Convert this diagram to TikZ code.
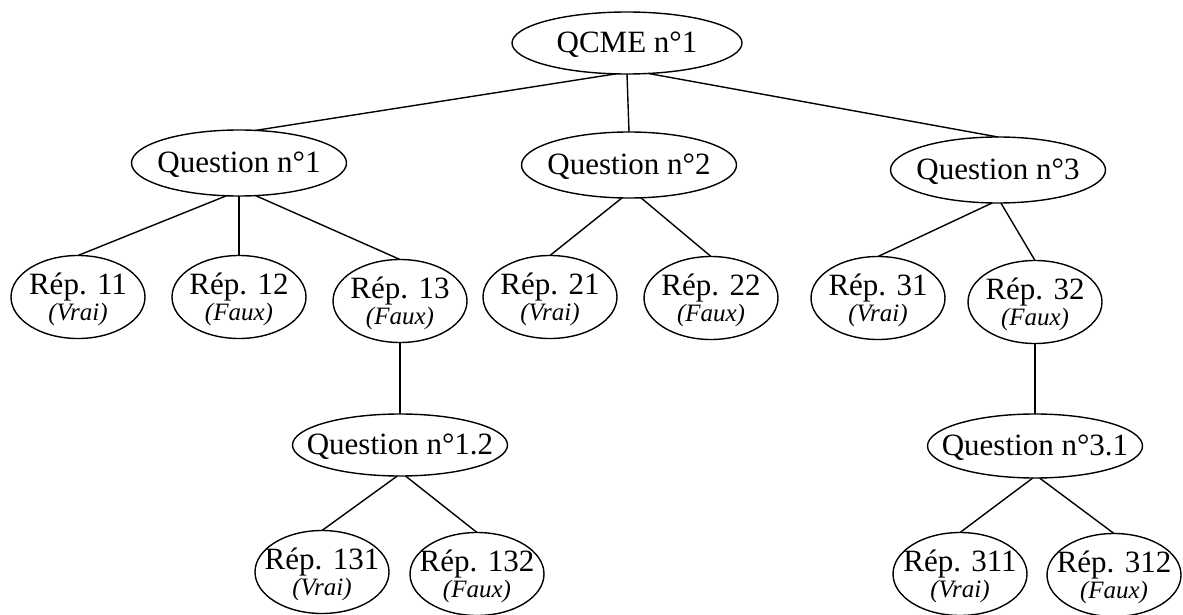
\documentclass[tikz,border=0pt]{standalone}
\usepackage{fontspec}
\setmainfont{Liberation Serif}
\usetikzlibrary{shapes.geometric}
\setlength{\lineskiplimit}{-20pt}
\newcommand\subtxt[1]{{\fontsize{25}{26}\selectfont\itshape #1}}
\begin{document}
\begin{tikzpicture}[x=1pt,y=-1pt,
  ell/.style={draw, ellipse, inner sep=0pt, outer sep=0pt, line width=1.4pt},
  qtext/.style={font=\fontsize{31}{34}\selectfont, inner sep=0pt, yshift=-2pt},
  rtext/.style={font=\fontsize{31}{26}\selectfont, inner sep=0pt, align=center, yshift=-2pt},
  qn/.style={ell, minimum width=215, minimum height=66},
  rep/.style={ell, minimum width=134, minimum height=83},
  conn/.style={line width=1.4pt}]
\useasboundingbox (0,0) rectangle (1183,615);
\node[ell, minimum width=230, minimum height=62, label={[qtext]center:QCME n°1}] (q0) at (627,43) {};
\node[qn, label={[qtext]center:Question n°1}] (q1) at (239,163) {};
\node[qn, label={[qtext]center:Question n°2}] (q2) at (629,165) {};
\node[qn, label={[qtext]center:Question n°3}] (q3) at (998,170) {};
\node[rep, label={[rtext]center:Rép. 11\\\subtxt{(Vrai)}}] (r11) at (78,297) {};
\node[rep, label={[rtext]center:Rép. 12\\\subtxt{(Faux)}}] (r12) at (239,297) {};
\node[rep, label={[rtext]center:Rép. 13\\\subtxt{(Faux)}}] (r13) at (400,301) {};
\node[rep, label={[rtext]center:Rép. 21\\\subtxt{(Vrai)}}] (r21) at (550,297) {};
\node[rep, label={[rtext]center:Rép. 22\\\subtxt{(Faux)}}] (r22) at (711,298) {};
\node[rep, label={[rtext]center:Rép. 31\\\subtxt{(Vrai)}}] (r31) at (878,298) {};
\node[rep, label={[rtext]center:Rép. 32\\\subtxt{(Faux)}}] (r32) at (1035,302) {};
\node[qn, minimum height=62, label={[qtext]center:Question n°1.2}] (q12) at (400,445) {};
\node[qn, minimum height=64, label={[qtext]center:Question n°3.1}] (q31) at (1035,446) {};
\node[rep, label={[rtext]center:Rép. 131\\\subtxt{(Vrai)}}] (r131) at (322,572) {};
\node[rep, label={[rtext]center:Rép. 132\\\subtxt{(Faux)}}] (r132) at (477,574) {};
\node[rep, label={[rtext]center:Rép. 311\\\subtxt{(Vrai)}}] (r311) at (960,574) {};
\node[rep, label={[rtext]center:Rép. 312\\\subtxt{(Faux)}}] (r312) at (1114,575) {};
\draw[conn] (q0.250) -- (q1.63);
\draw[conn] (q0.south) -- (q2.north);
\draw[conn] (q0.305) -- (q3.north);
\draw[conn] (q1.249) -- (r11.north);
\draw[conn] (q1.south) -- (r12.north);
\draw[conn] (q1.297) -- (r13.north);
\draw[conn] (q2.258) -- (r21.north);
\draw[conn] (q2.290) -- (r22.north);
\draw[conn] (q3.260) -- (r31.north);
\draw[conn] (q3.275) -- (r32.north);
\draw[conn] (r13.south) -- (q12.north);
\draw[conn] (q12.265) -- (r131.north);
\draw[conn] (q12.280) -- (r132.north);
\draw[conn] (r32.south) -- (q31.north);
\draw[conn] (q31.266) -- (r311.north);
\draw[conn] (q31.278) -- (r312.north);
\end{tikzpicture}
\end{document}
